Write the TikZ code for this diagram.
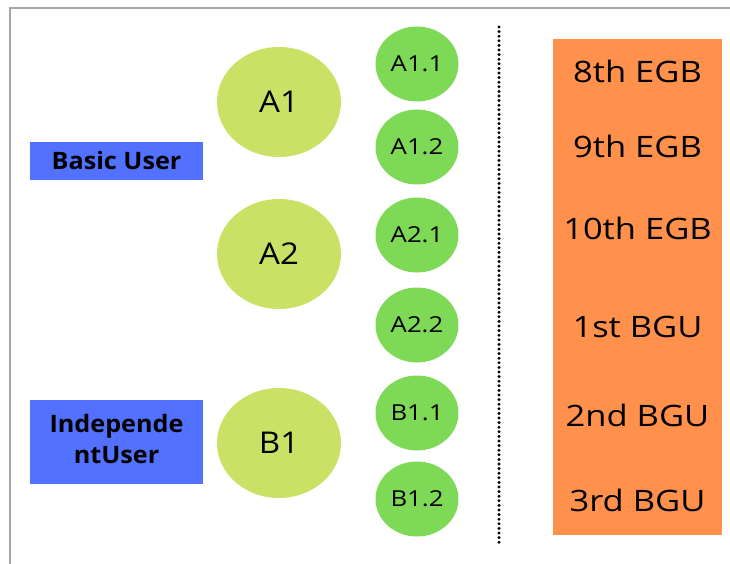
\documentclass[tikz,border=0pt]{standalone}
\usepackage{fontspec}
\setmainfont{Open Sans}
\usetikzlibrary{shapes.geometric}
\definecolor{cblue}{HTML}{5271FF}
\definecolor{clime}{HTML}{C9E265}
\definecolor{cgreen}{HTML}{7ED957}
\definecolor{corange}{HTML}{FF914D}
\definecolor{cframe}{HTML}{A6A6A6}
\tikzset{
  bigell/.style={ellipse, fill=clime, minimum width=124pt, minimum height=110pt, inner sep=0pt, font=\fontsize{30}{30}\selectfont},
  smallell/.style={ellipse, fill=cgreen, minimum width=83pt, minimum height=75pt, inner sep=0pt, font=\fontsize{22}{24}\selectfont},
  userbox/.style={rectangle, fill=cblue, inner sep=0pt, font=\bfseries\fontsize{24}{31}\selectfont, align=center},
  gradetext/.style={anchor=base, inner sep=0pt, font=\fontsize{29.5}{30}\selectfont},
}
\newcommand{\wid}[2]{\scalebox{#1}[1]{#2}}
\begin{document}
\begin{tikzpicture}[x=1pt,y=-1pt]
\useasboundingbox (0,0) rectangle (730,564);
\draw[cframe, line width=2pt] (9.5,570) -- (9.5,8.5) -- (740,8.5);
% user boxes
\node[userbox, minimum width=173pt, minimum height=38pt] (basic) at (116.5,161) {\wid{1.05}{Basic User}};
\node[userbox, minimum width=173pt, minimum height=84pt] (indep) at (116.5,442) {\strut\wid{1.05}{Independe}\\\strut\wid{1.05}{ntUser}};
% big ellipses
\node[bigell] (A1) at (279,102) {\wid{1.1}{A1}};
\node[bigell] (A2) at (279,254) {\wid{1.1}{A2}};
\node[bigell] (B1) at (279,443) {\wid{1.1}{B1}};
% small ellipses
\node[smallell] (A11) at (417,64) {\wid{1.17}{A1.1}};
\node[smallell] (A12) at (417,147) {\wid{1.17}{A1.2}};
\node[smallell] (A21) at (417,235) {\wid{1.17}{A2.1}};
\node[smallell] (A22) at (417,325) {\wid{1.17}{A2.2}};
\node[smallell] (B11) at (417,413) {\wid{1.17}{B1.1}};
\node[smallell] (B12) at (417,499) {\wid{1.17}{B1.2}};
% dotted separator
\coordinate (dtop) at (499,27);
\coordinate (dbot) at (499,545);
\draw[line width=3.3pt, dash pattern=on 0pt off 4.6pt, line cap=round] (dtop) -- (dbot);
% orange column
\node[rectangle, fill=corange, minimum width=169pt, minimum height=496pt, inner sep=0pt] (grades) at (637.5,287) {};
\node[gradetext] (g1) at (637.5,83) {\wid{1.17}{8th EGB}};
\node[gradetext] (g2) at (637.5,158) {\wid{1.17}{9th EGB}};
\node[gradetext] (g3) at (637.5,239) {\wid{1.17}{10th EGB}};
\node[gradetext] (g4) at (637.5,337) {\wid{1.17}{1st BGU}};
\node[gradetext] (g5) at (637.5,426) {\wid{1.17}{2nd BGU}};
\node[gradetext] (g6) at (637.5,511) {\wid{1.17}{3rd BGU}};
\end{tikzpicture}
\end{document}
